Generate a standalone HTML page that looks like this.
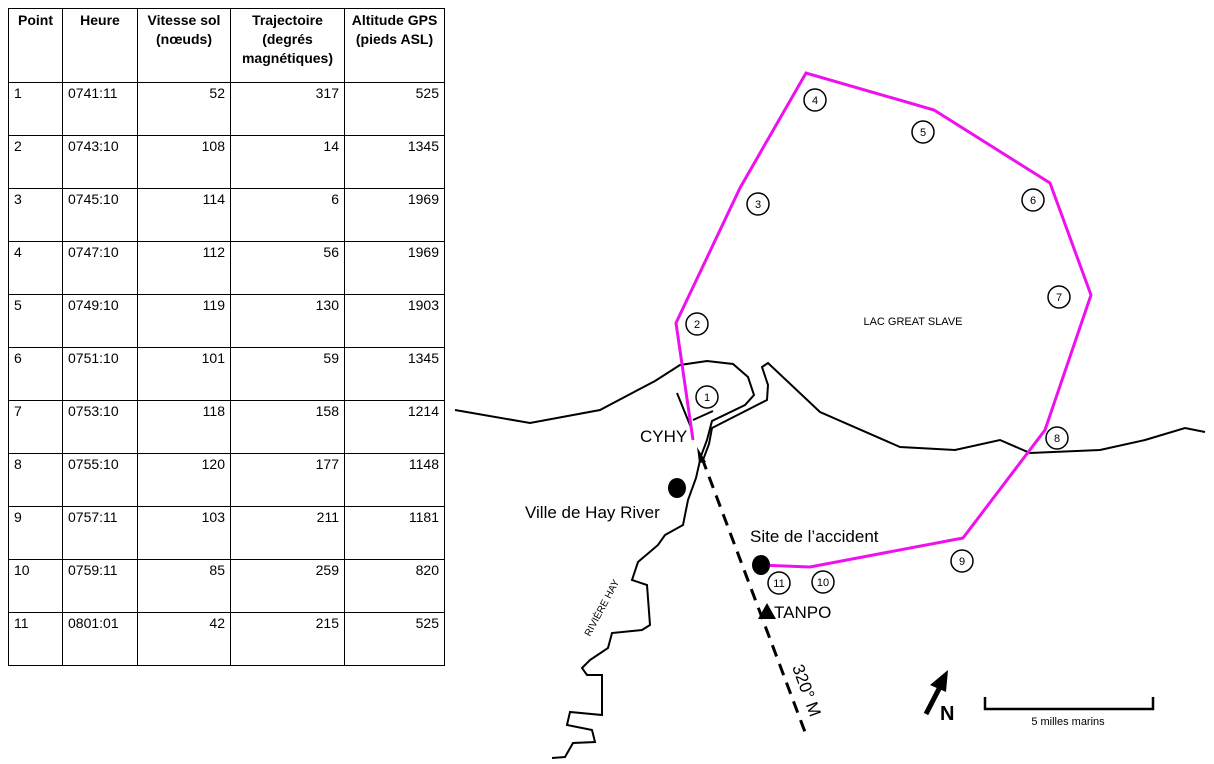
<!DOCTYPE html>
<html><head><meta charset="utf-8"><style>
body{margin:0;background:#fff;width:1214px;height:764px;overflow:hidden;font-family:"Liberation Sans",sans-serif}
table{position:absolute;left:8px;top:8px;border-collapse:collapse;font-size:14px}
td,th{border:1px solid #000;padding:2px 5px;vertical-align:top;height:48px}
th{height:69px;font-weight:bold;text-align:center;line-height:19px}
td.r{text-align:right}
</style></head><body>
<table>
<tr><th style="width:43px">Point</th><th style="width:64px">Heure</th><th style="width:82px">Vitesse sol (nœuds)</th><th style="width:103px">Trajectoire (degrés magnétiques)</th><th style="width:89px">Altitude GPS (pieds ASL)</th></tr>
<tr><td>1</td><td>0741:11</td><td class="r">52</td><td class="r">317</td><td class="r">525</td></tr>
<tr><td>2</td><td>0743:10</td><td class="r">108</td><td class="r">14</td><td class="r">1345</td></tr>
<tr><td>3</td><td>0745:10</td><td class="r">114</td><td class="r">6</td><td class="r">1969</td></tr>
<tr><td>4</td><td>0747:10</td><td class="r">112</td><td class="r">56</td><td class="r">1969</td></tr>
<tr><td>5</td><td>0749:10</td><td class="r">119</td><td class="r">130</td><td class="r">1903</td></tr>
<tr><td>6</td><td>0751:10</td><td class="r">101</td><td class="r">59</td><td class="r">1345</td></tr>
<tr><td>7</td><td>0753:10</td><td class="r">118</td><td class="r">158</td><td class="r">1214</td></tr>
<tr><td>8</td><td>0755:10</td><td class="r">120</td><td class="r">177</td><td class="r">1148</td></tr>
<tr><td>9</td><td>0757:11</td><td class="r">103</td><td class="r">211</td><td class="r">1181</td></tr>
<tr><td>10</td><td>0759:11</td><td class="r">85</td><td class="r">259</td><td class="r">820</td></tr>
<tr><td>11</td><td>0801:01</td><td class="r">42</td><td class="r">215</td><td class="r">525</td></tr>
</table>
<svg width="1214" height="764" style="position:absolute;left:0;top:0" font-family="Liberation Sans, sans-serif">
<g fill="none" stroke="#000" stroke-width="2" stroke-linejoin="miter">
<polyline points="455,410 530,423 600,410 655,381 680,365 707,361 733,364 748,377 754,395 745,405 712,421 707,440 701,456 696,478 688,500 683,525 665,535 658,545 638,562 632,580 647,585 650,625 642,630 612,633 608,648 590,660 582,668 587,675 602,675 602,715 570,712 567,725 592,730 595,742 573,743 565,757 552,758"/>
<polyline points="703,460 709,444 712,428 767,400 768,385 762,367 768,363 820,412 900,447 955,450 1000,440 1030,453 1100,450 1145,440 1185,428 1205,432"/>
<line x1="677" y1="393" x2="692" y2="430"/>
<line x1="693" y1="420" x2="713" y2="411"/>
</g>
<polyline fill="none" stroke="#ee11ee" stroke-width="3" points="693,440 676,323 740,188 806,73 934,110 1050,183 1091,295 1045,430 963,538 810,567 760,565"/>
<line x1="702" y1="458" x2="805" y2="732" stroke="#000" stroke-width="3" stroke-dasharray="12,8"/>
<polygon points="697,447 706,462 699,463" fill="#000"/>
<g fill="#fff" stroke="#000" stroke-width="1.5">
<circle cx="707" cy="397" r="11"/><circle cx="697" cy="324" r="11"/><circle cx="758" cy="204" r="11"/><circle cx="815" cy="100" r="11"/><circle cx="923" cy="132" r="11"/><circle cx="1033" cy="200" r="11"/><circle cx="1059" cy="297" r="11"/><circle cx="1057" cy="438" r="11"/><circle cx="962" cy="561" r="11"/><circle cx="823" cy="582" r="11"/><circle cx="779" cy="583" r="11"/>
</g>
<g font-size="11" text-anchor="middle">
<text x="707" y="401">1</text><text x="697" y="328">2</text><text x="758" y="208">3</text><text x="815" y="104">4</text><text x="923" y="136">5</text><text x="1033" y="204">6</text><text x="1059" y="301">7</text><text x="1057" y="442">8</text><text x="962" y="565">9</text><text x="823" y="586">10</text><text x="779" y="587">11</text>
</g>
<ellipse cx="677" cy="488" rx="9" ry="10"/>
<ellipse cx="761" cy="565" rx="9" ry="10"/>
<polygon points="767,603 758,619 776,619"/>
<g font-size="17">
<text x="640" y="442">CYHY</text>
<text x="525" y="518">Ville de Hay River</text>
<text x="750" y="542">Site de l’accident</text>
<text x="774" y="618">TANPO</text>
</g>
<text x="913" y="325" font-size="11" text-anchor="middle">LAC GREAT SLAVE</text>
<text transform="translate(590,637) rotate(-62)" font-size="10">RIVIÈRE HAY</text>
<text transform="translate(792,667) rotate(70)" font-size="17">320° M</text>
<line x1="926" y1="714" x2="942" y2="683" stroke="#000" stroke-width="5"/>
<polygon points="948,670 930,685 946,692"/>
<text x="940" y="720" font-size="20" font-weight="bold">N</text>
<polyline points="985,697 985,709 1153,709 1153,697" fill="none" stroke="#000" stroke-width="2.5"/>
<text x="1068" y="725" font-size="11" text-anchor="middle">5 milles marins</text>
</svg>
</body></html>
